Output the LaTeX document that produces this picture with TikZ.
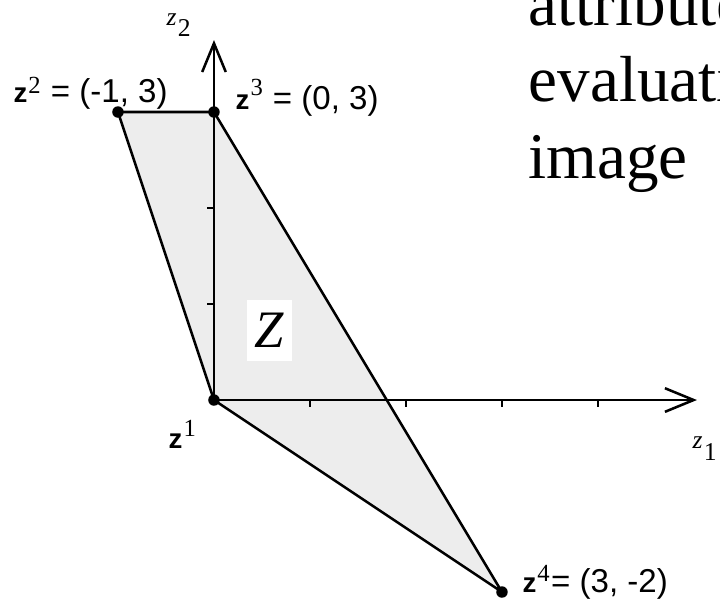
\documentclass[tikz,border=0pt]{standalone}
\usepackage{fontspec}
\setmainfont{Liberation Serif}
\setsansfont{Liberation Sans}
\usetikzlibrary{positioning,arrows.meta}

\newcommand{\vtx}[2][3pt]{{\fontsize{8.2}{9}\bfseries z}\kern0.3pt\raisebox{#1}{\fontsize{7.3}{8}\rmfamily #2}}
\newcommand{\axlab}[1]{\textit{z}\kern0.4pt\raisebox{-3.4pt}{#1}}

\begin{document}
\begin{tikzpicture}[
  every node/.style={inner sep=0pt},
  region/.style={draw=black, fill=black!7, line width=0.75pt, line join=miter},
  axis/.style={line width=0.75pt, -{Straight Barb[length=8.5pt,width=7pt,line width=0.75pt]}},
  tick/.style={line width=0.75pt},
  vlab/.style={font=\fontsize{9.8}{11}\sffamily, anchor=base west},
  alab/.style={font=\fontsize{7.6}{8}\rmfamily, anchor=base west},
  slide/.style={font=\fontsize{19.3}{22}\rmfamily, anchor=base west},
  dot/.style={circle, fill=black, minimum size=3.4pt},
]
\useasboundingbox (-2.229,-2.0625) rectangle (5.271,4.167);
\clip (-2.229,-2.0625) rectangle (5.271,4.167);
% ---- vertices of Z ----
\coordinate (z1) at (0,0);
\coordinate (z2) at (-1,3);
\coordinate (z3) at (0,3);
\coordinate (z4) at (3,-2);
\path[region] (z1) -- (z2) -- (z3) -- (z4) -- cycle;
% ---- axes with ticks ----
\coordinate (xend) at (5.031,0);
\coordinate (yend) at (0,3.75);
\draw[axis] (z1) -- (xend);
\draw[axis] (z1) -- (yend);
\foreach \t in {1,2,3,4}
  \draw[tick] (\t,0) -- ++(0,-0.075);
\foreach \t in {1,2}
  \draw[tick] (0,\t) -- ++(-0.075,0);
\node[alab] (z1lab) at (4.979,-0.51) {\axlab{1}};
\node[alab] (z2lab) at (-0.5,3.906) {\axlab{2}};
% ---- region label ----
\node[fill=white, minimum width=0.469cm, minimum height=0.635cm,
      font=\fontsize{15.6}{16}\itshape] (zname) at (0.578,0.724) {Z};
% ---- vertex dots and labels ----
\foreach \v in {z1,z2,z3,z4}
  \node[dot] (\v dot) at (\v) {};
\node[vlab] (z1txt) at (-0.479,-0.5)   {\vtx[3.5pt]{1}};
\node[vlab] (z2txt) at (-2.094,3.104)  {\vtx[2.4pt]{2}\hspace{3pt}= (-1, 3)};
\node[vlab] (z3txt) at (0.219,3.021)   {\vtx[4.4pt]{3}\hspace{3pt}= (0, 3)};
\node[vlab] (z4txt) at (3.208,-2.0)    {\vtx[3pt]{4}\hspace{0.4pt}= (3, -2)};
% ---- slide text, cut at the right edge ----
\foreach \w [count=\i] in {attribute,evaluati,image}
  \node[slide] (line\i) at (3.271,{3.906-0.797*(\i-1)}) {\w};
\end{tikzpicture}
\end{document}
